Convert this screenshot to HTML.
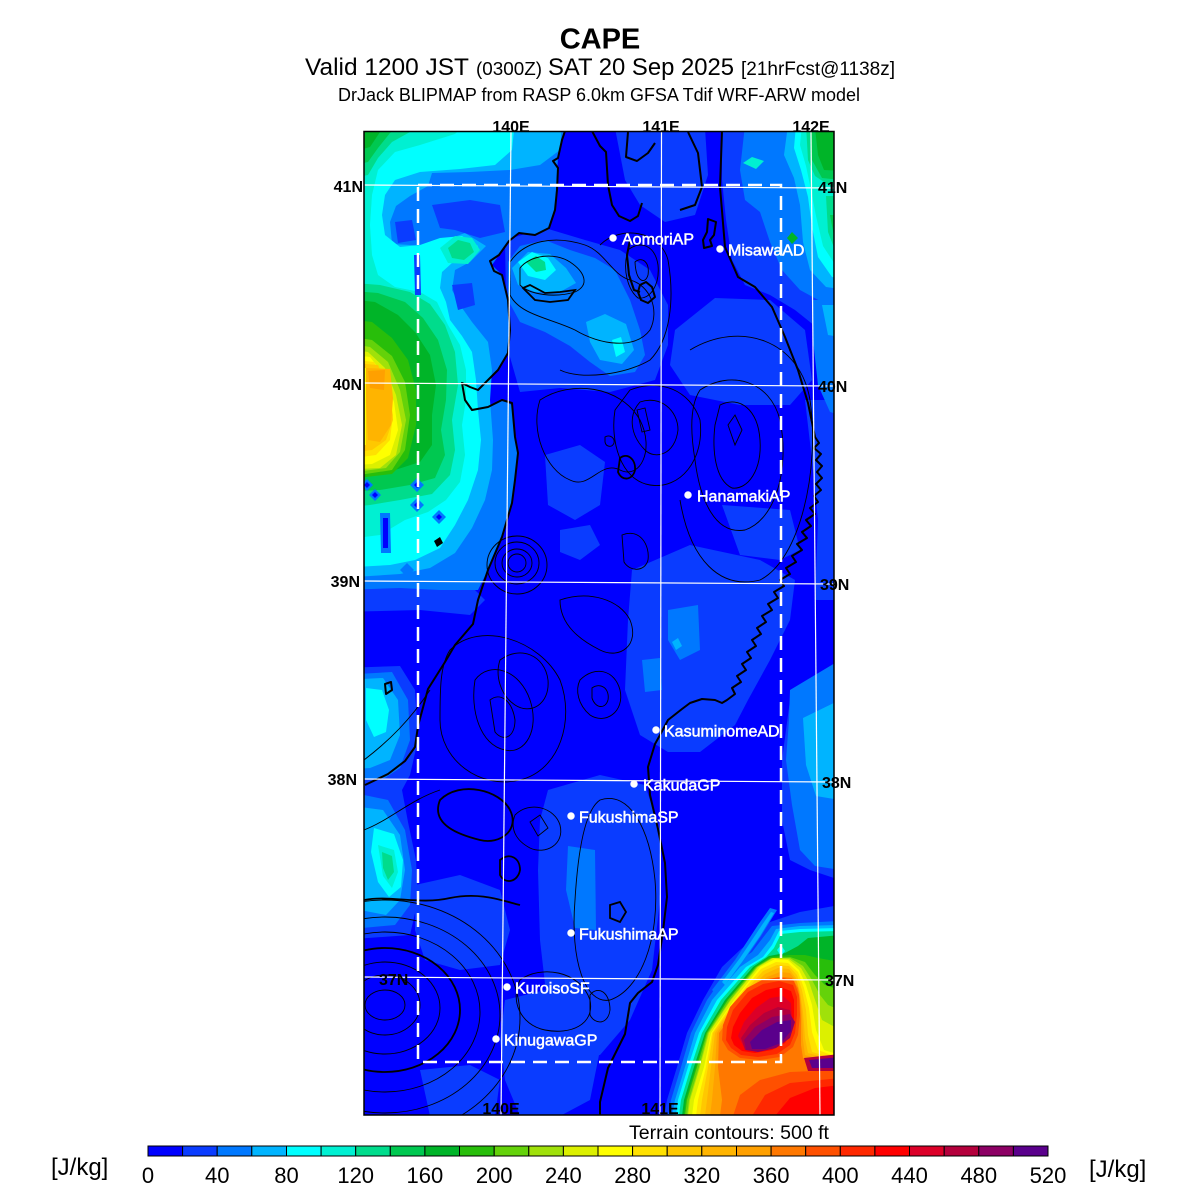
<!DOCTYPE html>
<html><head><meta charset="utf-8"><style>html,body{margin:0;padding:0;background:#fff}svg{display:block}</style></head>
<body>
<svg width="1200" height="1200" viewBox="0 0 1200 1200" xmlns="http://www.w3.org/2000/svg" font-family="'Liberation Sans', Arial, sans-serif">
<rect width="1200" height="1200" fill="#fff"/>
<!-- Titles -->
<text x="600" y="48.5" font-size="29" font-weight="bold" text-anchor="middle" fill="#000">CAPE</text>
<text x="305" y="75" font-size="24" textLength="164" lengthAdjust="spacingAndGlyphs" fill="#000">Valid 1200 JST</text>
<text x="476" y="75" font-size="18" textLength="66" lengthAdjust="spacingAndGlyphs" fill="#000">(0300Z)</text>
<text x="548" y="75" font-size="24" textLength="186" lengthAdjust="spacingAndGlyphs" fill="#000">SAT 20 Sep 2025</text>
<text x="741" y="75" font-size="19" textLength="154" lengthAdjust="spacingAndGlyphs" fill="#000">[21hrFcst@1138z]</text>
<text x="338" y="101" font-size="18" textLength="522" lengthAdjust="spacingAndGlyphs" fill="#000">DrJack BLIPMAP from RASP 6.0km GFSA Tdif WRF-ARW model</text>

<defs><clipPath id="mc"><rect x="364" y="131.5" width="470" height="983.5"/></clipPath></defs>
<g clip-path="url(#mc)">
<rect x="364" y="131" width="470" height="985" fill="#0000ff"/>
<!-- medium blue C2 -->
<g fill="#0a3cff">
<polygon points="340,578 420,575 470,585 485,600 470,615 420,610 340,612"/>
<polygon points="722,125 860,125 860,340 820,330 795,310 770,295 745,285 732,260 726,220 722,180"/>
<polygon points="615,128 705,128 708,175 695,215 665,222 640,205 625,180"/>
<polygon points="505,240 545,228 585,240 620,250 650,270 668,305 668,345 655,380 610,392 560,388 520,392 508,350 506,300"/>
<polygon points="675,330 715,298 770,300 805,330 812,380 790,405 740,405 690,395 670,365"/>
<polygon points="805,400 840,400 840,600 815,600 818,520 812,460"/>
<polygon points="545,455 580,445 605,462 600,505 575,520 548,505"/>
<polygon points="560,530 590,525 600,545 580,560 560,552"/>
<polygon points="722,505 790,510 800,550 780,560 740,555"/>
<polygon points="632,570 690,545 760,560 795,580 790,620 770,660 748,700 735,725 700,752 668,752 640,735 625,690 628,620"/>
<polygon points="790,700 840,660 840,880 810,870 790,860 782,820 782,760"/>
<polygon points="548,790 600,775 645,785 660,830 660,900 652,970 630,1020 600,1055 570,1055 548,1010 540,940 538,870 540,820"/>
<polygon points="415,885 460,875 500,890 510,930 500,965 460,970 425,960 415,930"/>
<polygon points="505,1000 545,990 585,1010 600,1050 590,1100 560,1116 520,1116 505,1080 500,1040"/>
<polygon points="420,1070 470,1065 500,1080 495,1116 430,1116"/>
</g>
<!-- Sea of Japan north stack -->
<polygon fill="#0078ff" points="340,120 566,120 562,140 558,158 556,190 555,210 549,228 535,235 519,233 509,241 499,255 492,265 502,275 508,300 510,330 508,353 498,370 488,380 478,390 462,383 465,400 472,410 488,407 502,400 512,405 515,437 518,453 512,503 502,537 488,570 478,590 440,590 400,588 340,590"/>
<polygon fill="#00b4ff" points="340,120 562,120 560,150 540,165 510,170 470,172 432,173 428,186 410,196 396,206 390,222 392,244 430,246 465,233 486,246 470,262 455,270 452,290 460,305 472,322 488,342 492,370 490,400 493,440 492,470 485,500 472,528 455,553 430,568 400,574 340,578"/>
<polygon fill="#00ffff" points="340,120 515,120 512,150 495,165 460,169 420,172 395,180 385,195 382,215 385,235 400,247 420,245 440,238 462,236 478,246 470,258 452,263 442,272 440,288 446,302 450,320 462,336 472,352 476,380 478,410 481,440 478,470 468,500 455,525 440,548 415,560 390,565 340,568"/>
<polygon fill="#00f0d2" points="340,120 470,120 455,134 420,145 395,152 378,170 372,195 370,225 372,255 378,275 395,287 420,292 437,302 448,325 460,345 466,370 466,400 462,425 465,455 460,482 446,500 428,512 405,520 380,535 340,540"/>
<polygon fill="#00f0d2" points="440,248 455,236 472,238 480,250 468,264 448,263"/>
<polygon fill="#00dc8c" points="448,248 458,240 470,243 474,252 464,260 452,258"/>
<polygon fill="#00dc8c" points="340,120 430,120 410,132 392,142 378,158 368,175 340,180"/>
<polygon fill="#00dc8c" points="340,282 380,285 410,292 430,304 445,325 455,352 458,385 452,420 455,450 450,475 432,494 400,500 370,505 340,508"/>
<polygon fill="#00c850" points="340,120 405,120 390,133 378,148 368,162 340,168"/>
<polygon fill="#00c850" points="340,290 378,293 405,302 423,318 438,340 447,370 446,400 441,430 445,455 435,478 410,485 380,490 340,492"/>
<polygon fill="#00b428" points="340,120 390,120 380,132 370,147 340,155"/>
<polygon fill="#00b428" points="340,298 375,302 398,315 415,332 430,355 436,385 432,415 432,445 420,462 395,470 340,475"/>
<polygon fill="#28be0a" points="340,318 372,322 392,338 408,360 416,390 416,425 408,458 392,474 340,480"/>
<polygon fill="#64d20a" points="340,335 372,340 392,356 405,382 410,415 405,450 392,470 340,478"/>
<polygon fill="#a0e10a" points="340,342 370,347 388,362 400,390 406,420 400,452 386,468 340,474"/>
<polygon fill="#dcf000" points="340,348 368,352 385,368 396,395 402,425 396,455 380,468 340,470"/>
<polygon fill="#ffff00" points="340,353 370,357 384,375 394,402 398,430 390,455 372,464 340,466"/>
<polygon fill="#ffe100" points="340,358 374,362 387,385 393,415 390,440 376,455 340,460"/>
<polygon fill="#ffc800" points="340,362 378,365 390,390 393,420 386,440 372,450 340,454"/>
<polygon fill="#ffb400" points="366,368 390,369 393,398 391,425 380,442 368,440 366,400"/>
<polygon fill="#ffa000" points="368,371 385,370 384,390 370,388"/>
<polygon fill="#ffff00" points="364,368 366,368 366,445 364,445"/>
<!-- dark patches in sea -->
<g fill="#0a3cff">
<polygon points="395,222 412,220 416,240 398,243"/>
<polygon points="432,205 470,200 500,205 505,232 480,238 455,230 440,228"/>
<polygon points="414,255 420,255 421,295 415,295"/>
<polygon points="452,285 472,283 475,305 458,310"/>
</g>
<g fill="#0078ff">
<polygon points="367,479 373,485 367,491 361,485"/>
<polygon points="375,489 381,495 375,501 369,495"/>
<polygon points="417,478 424,485 417,492 410,485"/>
<polygon points="417,498 424,505 417,512 410,505"/>
<polygon points="439,510 446,517 439,524 432,517"/>
<polygon points="380,513 390,513 391,553 381,553"/>
<polygon points="407,563 414,570 407,577 400,570"/>
</g>
<g fill="#0000ff">
<polygon points="367,482 370,485 367,488 364,485"/>
<polygon points="375,492 378,495 375,498 372,495"/>
<polygon points="417,482 420,485 417,488 414,485"/>
<polygon points="417,502 420,505 417,508 414,505"/>
<polygon points="439,514 442,517 439,520 436,517"/>
<polygon points="383,518 388,518 388,548 383,548"/>
</g>
<!-- Aomori land -->
<polygon fill="#0078ff" points="508,262 520,246 545,240 570,250 595,258 615,270 630,300 640,330 645,355 635,372 610,376 590,362 570,346 545,332 520,322 508,300"/>
<polygon fill="#00b4ff" points="512,268 528,252 550,254 566,268 576,283 560,292 535,292 518,285"/>
<polygon fill="#00b4ff" points="586,322 605,314 626,324 634,350 622,364 600,360 590,342"/>
<polygon fill="#00ffff" points="518,262 532,252 548,258 556,270 545,280 528,276"/>
<polygon fill="#00dc8c" points="526,262 536,256 545,262 546,270 536,272"/>
<polygon fill="#00ffff" points="612,340 621,337 625,352 616,357"/>
<!-- top right corner -->
<polygon fill="#0078ff" points="745,125 860,125 860,305 822,302 800,290 782,270 770,242 760,212 745,200 740,170"/>
<polygon fill="#00b4ff" points="788,125 860,125 860,292 826,287 810,270 803,242 800,205 794,178 784,155"/>
<polygon fill="#00ffff" points="796,125 860,125 860,282 832,277 818,257 812,227 808,197 801,170 794,148"/>
<polygon fill="#00f0d2" points="802,125 860,125 860,272 836,266 823,246 816,216 811,190 806,166 800,145"/>
<polygon fill="#00dc8c" points="806,125 860,125 860,190 830,186 815,176 808,160"/>
<polygon fill="#00dc8c" points="826,196 860,196 860,262 838,258 828,232"/>
<polygon fill="#00c850" points="810,125 860,125 860,182 822,178 812,160"/>
<polygon fill="#00b428" points="815,128 860,128 860,172 824,170 818,155"/>
<polygon fill="#00c850" points="830,215 860,215 860,250 836,247"/>
<polygon fill="#00f0d2" points="743,163 752,157 764,161 756,169"/>
<polygon fill="#00b428" points="787,238 792,232 798,238 792,244"/>
<polygon fill="#0078ff" points="812,300 860,300 860,420 830,412 818,385 813,340"/>
<polygon fill="#00b4ff" points="822,305 860,305 860,340 828,335"/>
<!-- right middle -->
<polygon fill="#0078ff" points="790,690 840,660 840,870 815,866 800,850 792,805 786,760 789,720"/>
<polygon fill="#00b4ff" points="803,718 840,700 840,800 816,796 806,765"/>
<polygon fill="#0078ff" points="668,610 698,605 700,650 680,660 668,640"/>
<polygon fill="#00b4ff" points="672,642 678,638 682,646 676,650"/>
<polygon fill="#0078ff" points="642,660 660,658 662,690 645,692"/>
<polygon fill="#0078ff" points="568,846 595,850 596,930 575,928 566,890"/>
<!-- left lower -->
<polygon fill="#0a3cff" points="340,668 400,666 415,690 418,740 410,775 402,790 408,822 416,860 418,900 410,935 340,940"/>
<polygon fill="#0078ff" points="340,675 392,672 408,700 410,740 400,768 385,778 340,780"/>
<polygon fill="#0078ff" points="340,790 388,800 405,830 412,870 410,905 395,925 340,930"/>
<polygon fill="#00b4ff" points="340,680 383,678 398,700 400,735 390,760 370,768 340,770"/>
<polygon fill="#00b4ff" points="345,805 383,810 400,835 405,870 400,900 386,915 360,910 340,900"/>
<polygon fill="#00ffff" points="366,688 382,690 389,710 386,732 374,737 366,720"/>
<polygon fill="#00ffff" points="374,828 394,834 403,860 401,887 389,897 378,882 371,852"/>
<polygon fill="#00f0d2" points="378,845 394,850 398,872 392,888 383,876"/>
<polygon fill="#00dc8c" points="382,852 392,856 394,872 388,880 383,868"/>
<!-- SE plume -->
<polygon fill="#0a3cff" points="664,1116 667,1100 677,1067 687,1033 703,1000 722,967 740,950 758,935 770,922 800,912 840,905 840,1120 664,1120"/>
<polygon fill="#0078ff" points="668,1116 671,1100 681,1067 691,1033 707,1000 730,967 752,952 765,935 772,926 800,923 840,921 840,1120 668,1120"/>
<polygon fill="#0078ff" points="712,990 735,960 758,925 770,908 777,910 761,936 739,968 717,995"/>
<polygon fill="#00b4ff" points="722,982 740,958 762,925 771,912 774,913 760,936 742,962 725,985"/>
<polygon fill="#00b4ff" points="672,1116 675,1100 685,1067 695,1033 712,1000 740,967 758,955 770,940 776,929 800,926 840,925 840,1120 672,1120"/>
<polygon fill="#00ffff" points="676,1116 678,1100 688,1067 699,1033 717,1000 746,967 763,957 772,945 779,931 800,929 840,928 840,1120 676,1120"/>
<polygon fill="#00dc8c" points="679,1116 681,1100 691,1067 702,1033 721,1000 750,967 766,957 774,948 781,934 800,932 840,931 840,1120 679,1120"/>
<polygon fill="#00b428" points="682,1116 684,1100 694,1067 705,1033 725,1000 753,967 769,956 785,953 798,946 808,938 840,935 840,1120 682,1120"/>
<polygon fill="#28be0a" points="684,1116 686,1100 696,1067 706,1033 727,1000 755,967 770,957 790,955 805,955 818,958 840,962 840,1120 684,1120"/>
<polygon fill="#64d20a" points="685,1116 687,1100 697,1067 707,1033 728,1000 756,967 771,958 790,957 805,962 815,975 825,985 840,990 840,1120 685,1120"/>
<polygon fill="#a0e10a" points="687,1116 689,1100 699,1067 708,1033 730,1000 757,967 772,958 790,958 803,966 812,980 820,995 828,1005 840,1010 840,1120 687,1120"/>
<polygon fill="#dcf000" points="688,1116 690,1100 700,1067 709,1033 731,1000 758,967 773,958 789,959 801,968 809,982 815,1000 822,1020 840,1030 840,1120 688,1120"/>
<polygon fill="#ffff00" points="692,1116 694,1100 704,1067 711,1033 734,1000 760,967 775,959 788,960 799,970 806,985 812,1005 816,1030 824,1050 840,1055 840,1120 692,1120"/>
<polygon fill="#ffe100" points="696,1116 698,1100 706,1067 712,1033 735,1000 761,969 776,962 788,963 798,972 804,988 809,1008 812,1032 818,1050 840,1058 840,1120 696,1120"/>
<polygon fill="#ffc800" points="700,1116 702,1100 708,1067 713,1033 737,1000 763,971 777,965 789,966 797,975 802,990 806,1010 808,1035 812,1052 840,1060 840,1120 700,1120"/>
<polygon fill="#ffb400" points="705,1116 707,1100 711,1067 715,1033 738,1000 765,974 778,968 789,969 796,978 800,992 803,1012 805,1038 808,1053 840,1062 840,1120 705,1120"/>
<polygon fill="#ffa000" points="710,1116 712,1100 715,1067 717,1033 740,1000 767,977 780,972 790,973 797,982 800,995 802,1015 803,1040 805,1055 840,1064 840,1120 710,1120"/>
<polygon fill="#ff7800" points="720,1116 722,1100 718,1067 719,1033 743,1000 768,982 782,977 792,978 798,988 800,1000 801,1020 801,1045 803,1058 840,1068 840,1120 720,1120"/>
<polygon fill="#ff5000" points="722,1040 723,1025 730,1007 747,988 762,980 780,977 794,981 799,995 800,1015 798,1035 793,1047 780,1057 760,1060 740,1058 728,1050"/>
<polygon fill="#ff2800" points="726,1040 727,1027 733,1010 748,992 763,984 779,981 793,985 797,997 797,1015 795,1033 790,1045 777,1054 758,1057 741,1055 731,1048"/>
<polygon fill="#ff0000" points="731,1038 733,1027 740,1013 752,998 766,990 780,987 791,991 794,1000 794,1018 791,1033 785,1043 772,1050 755,1053 742,1051 734,1045"/>
<polygon fill="#dc0028" points="738,1036 744,1022 756,1008 770,998 783,996 791,1003 792,1020 787,1035 776,1046 758,1051 745,1049"/>
<polygon fill="#b4003c" points="741,1038 750,1025 764,1013 778,1007 790,1010 793,1024 787,1038 773,1048 756,1051 745,1050"/>
<polygon fill="#8c0064" points="744,1040 755,1027 772,1017 790,1014 795,1022 790,1038 776,1048 758,1052 746,1050"/>
<polygon fill="#5a008c" points="750,1042 762,1030 777,1022 791,1020 791,1031 781,1043 765,1049 752,1049"/>
<polygon fill="#ff5000" points="733,1116 740,1095 760,1080 790,1072 840,1070 840,1120 733,1120"/>
<polygon fill="#ff2800" points="752,1116 765,1095 790,1083 840,1078 840,1120 752,1120"/>
<polygon fill="#ff0000" points="775,1116 790,1098 815,1088 840,1085 840,1120 775,1120"/>
<polygon fill="#b4003c" points="804,1058 840,1054 840,1071 808,1071"/>
<polygon fill="#5a008c" points="809,1060 840,1057 840,1068 812,1068"/>
<polygon fill="#00ffff" points="777,950 781,945 785,951 781,956"/>
<!-- terrain contours (thin) -->
<g fill="none" stroke="#000" stroke-width="0.9">
<path d="M510,262 C525,240 555,235 585,245 C605,252 612,275 630,280 C650,285 660,310 650,330 C635,350 600,345 575,330 C550,318 520,315 510,295 Z"/>
<path d="M520,268 C530,255 555,252 570,262 C585,272 590,285 575,292 C555,298 530,295 520,285 Z"/>
<path d="M628,250 C640,240 655,245 658,265 C660,285 650,300 638,298 C628,290 622,270 628,250 Z"/>
<path d="M635,262 C642,256 650,262 648,275 C645,285 636,282 635,262 Z"/>
<path d="M600,245 C620,225 660,230 668,260 C675,300 670,340 650,360 C625,375 580,380 560,370"/>
<path d="M630,390 C660,378 690,390 700,420 C705,460 680,490 650,485 C620,480 610,440 615,410 Z"/>
<path d="M640,402 C660,395 678,410 678,430 C675,455 655,460 645,450 C630,435 628,415 640,402 Z"/>
<path d="M637,410 L645,408 L650,430 L642,432 Z"/>
<path d="M700,390 C730,370 770,380 780,420 C790,470 775,520 745,530 C715,535 700,500 695,460 C690,430 690,405 700,390 Z"/>
<path d="M720,405 C740,395 758,410 760,440 C762,470 748,490 732,488 C715,480 712,450 715,425 Z"/>
<path d="M728,425 L735,415 L742,430 L735,445 Z"/>
<path d="M690,350 C740,320 800,340 810,400 C820,470 800,560 760,580 C720,590 690,560 680,500"/>
<path d="M540,400 C570,380 620,385 640,420 C655,450 640,480 620,470 C600,460 590,490 570,480 C545,470 530,430 540,400 Z"/>
<path d="M605,437 C610,434 615,438 614,443 C612,448 606,447 605,442 Z"/>
<ellipse cx="517" cy="563" rx="9" ry="9"/>
<ellipse cx="517" cy="563" rx="15" ry="14"/>
<ellipse cx="517" cy="563" rx="22" ry="21"/>
<ellipse cx="517" cy="565" rx="30" ry="29"/>
<path d="M622,535 C640,528 650,545 648,560 C645,572 630,572 624,562 Z"/>
<path d="M450,650 C480,620 540,640 560,680 C575,720 560,770 520,780 C480,790 440,760 440,720 C440,690 440,665 450,650 Z"/>
<path d="M475,680 C490,660 520,670 530,700 C540,730 525,755 505,750 C480,745 470,710 475,680 Z"/>
<path d="M490,700 C500,692 512,700 515,720 C515,738 503,742 495,732 Z"/>
<path d="M500,660 C520,645 545,655 548,680 C550,705 530,715 515,705 C500,695 495,675 500,660 Z"/>
<path d="M580,680 C595,665 615,670 620,690 C625,712 605,725 590,715 C578,705 575,690 580,680 Z"/>
<path d="M592,688 C600,682 610,688 608,700 C605,710 595,708 592,698 Z"/>
<path d="M515,815 C530,800 555,808 560,825 C565,845 545,855 530,848 C515,840 510,828 515,815 Z"/>
<path d="M530,822 L540,815 L548,828 L538,836 Z"/>
<path d="M600,800 C630,790 650,830 655,880 C660,940 640,990 610,1000 C585,1005 570,960 575,900 C578,850 585,810 600,800 Z"/>
<path d="M520,980 C540,965 580,970 590,1000 C595,1025 570,1035 545,1030 C520,1025 510,1000 520,980 Z"/>
<path d="M590,995 C598,985 610,992 610,1010 C608,1025 595,1025 590,1015 Z"/>
<path d="M560,600 C590,590 620,600 630,620 C640,645 620,660 600,650 C580,640 560,625 560,600 Z"/>
<ellipse cx="385" cy="1005" rx="20" ry="15"/>
<ellipse cx="385" cy="1005" rx="35" ry="30"/>
<ellipse cx="385" cy="1008" rx="55" ry="46"/>
<ellipse cx="385" cy="1012" rx="95" ry="80"/>
<ellipse cx="385" cy="1015" rx="115" ry="98"/>
<ellipse cx="385" cy="1018" rx="135" ry="118"/>
<path d="M364,760 C390,740 410,720 430,690"/>
<path d="M364,830 C390,820 410,800 440,790"/>
</g>
<g fill="none" stroke="#000" stroke-width="1.8">
<path d="M523,288 L530,285 L545,293 L560,292 L575,290 L568,300 L550,302 L535,300 Z"/>
<path d="M620,458 C628,452 636,460 635,470 C633,480 622,482 618,472 Z"/>
<path d="M440,800 C460,780 500,790 510,810 C520,830 500,845 480,840 C460,835 430,825 440,800 Z"/>
<path d="M500,860 C510,852 520,858 520,870 C518,882 505,885 500,875 Z"/>
<path d="M610,905 L620,902 L626,912 L620,922 L610,918 Z"/>
<ellipse cx="385" cy="1010" rx="75" ry="62"/>
<path d="M364,900 C390,895 420,905 450,898 C480,892 500,900 520,905"/>
</g>
<!-- coastlines -->
<g fill="none" stroke="#000" stroke-width="2" stroke-linejoin="round">
<path d="M565,131 L562,140 L558,158 L553,161 L558,168 L557,190 L555,210 L549,228 L535,235 L519,233 L509,241 L499,255 L490,261 L494,271 L502,275 L508,300 L510,330 L508,353 L498,370 L488,380 L478,390 L470,387 L462,383 L465,400 L472,410 L488,407 L502,400 L512,403 L515,437 L518,453 L515,480 L512,503 L502,537 L488,570 L478,600 L473,624 L455,645 L445,662 L428,689 L418,726 L415,747 L405,761 L388,774 L365,785"/>
<path d="M592,131 L600,146 L606,152 L608,185 L612,205 L619,216 L630,221 L638,216 L642,203"/>
<path d="M628,132 L626,157 L637,161 L648,153 L655,143"/>
<path d="M688,132 L698,153 L702,187 L695,205 L680,210"/>
<path d="M630,240 L627,255 L629,275 L634,290 L640,292"/>
<path d="M640,285 L646,282 L652,287 L655,297 L648,303 L641,300 L638,292 Z"/>
<path d="M708,219 L716,222 L714,235 L710,240 L712,246 L704,248 L703,240 L707,232 Z"/>
<path d="M722,131 L720,187 L725,247 L738,277 L755,287 L772,307 L785,337 L798,370 L808,403 L815,437 L819,443 L814,448 L821,454 L816,460 L822,466 L817,472 L822,478 L816,484 L821,490 L814,496 L818,502 L810,508 L815,514 L806,520 L811,526 L802,532 L807,538 L797,544 L802,550 L792,556 L796,562 L786,568 L790,574 L780,580 L784,586 L774,592 L778,598 L768,604 L772,610 L762,616 L766,622 L757,628 L761,634 L752,640 L756,646 L747,652 L751,658 L742,664 L746,670 L737,676 L741,682 L732,688 L735,694 L727,700 L722,703 L715,700 L702,699 L690,703 L682,709 L668,720 L660,735 L655,744 L648,767 L650,795 L658,829 L665,863 L667,897 L663,931 L658,965 L652,982 L638,993 L630,1003 L625,1034 L608,1068 L600,1102 L600,1116"/>
<path d="M385,684 L391,682 L392,690 L386,694 Z"/>
</g>
<path d="M434,541 L440,537 L443,543 L437,547 Z" fill="#000"/>
<!-- gridlines -->
<g stroke="#fff" stroke-width="1.2" fill="none">
<line x1="511" y1="131" x2="501" y2="1116"/>
<line x1="661.5" y1="131" x2="660" y2="1116"/>
<line x1="811" y1="131" x2="820" y2="1116"/>
<line x1="364" y1="185" x2="834" y2="188"/>
<line x1="364" y1="383" x2="834" y2="386"/>
<line x1="364" y1="581" x2="834" y2="584"/>
<line x1="364" y1="779" x2="834" y2="782"/>
<line x1="364" y1="977" x2="834" y2="980"/>
</g>
<rect x="418" y="185" width="363" height="877" fill="none" stroke="#fff" stroke-width="2.5" stroke-dasharray="14 8"/>
<!-- stations -->
<g fill="#fff" stroke="#fff" stroke-width="0.5" font-size="16">
<circle cx="613" cy="238" r="3.5"/><text x="622" y="244.5">AomoriAP</text>
<circle cx="720" cy="249" r="3.5"/><text x="728" y="255.5">MisawaAD</text>
<circle cx="688" cy="495" r="3.5"/><text x="697" y="501.5">HanamakiAP</text>
<circle cx="656" cy="730" r="3.5"/><text x="664" y="736.5">KasuminomeAD</text>
<circle cx="634" cy="784" r="3.5"/><text x="643" y="790.5">KakudaGP</text>
<circle cx="571" cy="816" r="3.5"/><text x="579" y="822.5">FukushimaSP</text>
<circle cx="571" cy="933" r="3.5"/><text x="579" y="939.5">FukushimaAP</text>
<circle cx="507" cy="987" r="3.5"/><text x="515" y="993.5">KuroisoSF</text>
<circle cx="496" cy="1039" r="3.5"/><text x="504" y="1045.5">KinugawaGP</text>
</g>
<g font-size="16" font-weight="bold" fill="#000">
<text x="501" y="1114" text-anchor="middle">140E</text>
<text x="660" y="1114" text-anchor="middle">141E</text>
<text x="379" y="985">37N</text>
</g>
</g>
<rect x="364" y="131.5" width="470" height="983.5" fill="none" stroke="#000" stroke-width="1.5"/>
<!-- axis labels -->
<g font-size="16" font-weight="bold" fill="#000">
<text x="511" y="132" text-anchor="middle">140E</text>
<text x="661" y="132" text-anchor="middle">141E</text>
<text x="811" y="132" text-anchor="middle">142E</text>
<text x="363" y="192" text-anchor="end">41N</text>
<text x="362" y="390" text-anchor="end">40N</text>
<text x="360" y="587" text-anchor="end">39N</text>
<text x="357" y="785" text-anchor="end">38N</text>
<text x="818" y="193">41N</text>
<text x="818" y="392">40N</text>
<text x="820" y="590">39N</text>
<text x="822" y="788">38N</text>
<text x="825" y="986">37N</text>
</g>
<text x="629" y="1139" font-size="19" textLength="200" lengthAdjust="spacingAndGlyphs" fill="#000">Terrain contours: 500 ft</text>
<!-- colorbar -->
<g stroke="#000" stroke-width="1">
<rect x="148" y="1146" width="34.6" height="10" fill="#0000ff"/>
<rect x="182.6" y="1146" width="34.6" height="10" fill="#0a3cff"/>
<rect x="217.2" y="1146" width="34.6" height="10" fill="#0078ff"/>
<rect x="251.8" y="1146" width="34.7" height="10" fill="#00b4ff"/>
<rect x="286.5" y="1146" width="34.6" height="10" fill="#00ffff"/>
<rect x="321.1" y="1146" width="34.6" height="10" fill="#00f0d2"/>
<rect x="355.7" y="1146" width="34.6" height="10" fill="#00dc8c"/>
<rect x="390.3" y="1146" width="34.6" height="10" fill="#00c850"/>
<rect x="424.9" y="1146" width="34.6" height="10" fill="#00b428"/>
<rect x="459.5" y="1146" width="34.7" height="10" fill="#28be0a"/>
<rect x="494.2" y="1146" width="34.6" height="10" fill="#64d20a"/>
<rect x="528.8" y="1146" width="34.6" height="10" fill="#a0e10a"/>
<rect x="563.4" y="1146" width="34.6" height="10" fill="#dcf000"/>
<rect x="598" y="1146" width="34.6" height="10" fill="#ffff00"/>
<rect x="632.6" y="1146" width="34.6" height="10" fill="#ffe100"/>
<rect x="667.2" y="1146" width="34.6" height="10" fill="#ffc800"/>
<rect x="701.8" y="1146" width="34.7" height="10" fill="#ffb400"/>
<rect x="736.5" y="1146" width="34.6" height="10" fill="#ffa000"/>
<rect x="771.1" y="1146" width="34.6" height="10" fill="#ff7800"/>
<rect x="805.7" y="1146" width="34.6" height="10" fill="#ff5000"/>
<rect x="840.3" y="1146" width="34.6" height="10" fill="#ff2800"/>
<rect x="874.9" y="1146" width="34.6" height="10" fill="#ff0000"/>
<rect x="909.5" y="1146" width="34.7" height="10" fill="#dc0028"/>
<rect x="944.2" y="1146" width="34.6" height="10" fill="#b4003c"/>
<rect x="978.8" y="1146" width="34.6" height="10" fill="#8c0064"/>
<rect x="1013.4" y="1146" width="34.6" height="10" fill="#5a008c"/>
</g>
<g font-size="22" fill="#000" text-anchor="middle">
<text x="148" y="1183">0</text>
<text x="217.2" y="1183">40</text>
<text x="286.5" y="1183">80</text>
<text x="355.7" y="1183">120</text>
<text x="424.9" y="1183">160</text>
<text x="494.2" y="1183">200</text>
<text x="563.4" y="1183">240</text>
<text x="632.6" y="1183">280</text>
<text x="701.8" y="1183">320</text>
<text x="771.1" y="1183">360</text>
<text x="840.3" y="1183">400</text>
<text x="909.5" y="1183">440</text>
<text x="978.8" y="1183">480</text>
<text x="1048" y="1183">520</text>
</g>
<text x="51" y="1175" font-size="24" fill="#000">[J/kg]</text>
<text x="1089" y="1177" font-size="24" fill="#000">[J/kg]</text>
</svg>
</body></html>
